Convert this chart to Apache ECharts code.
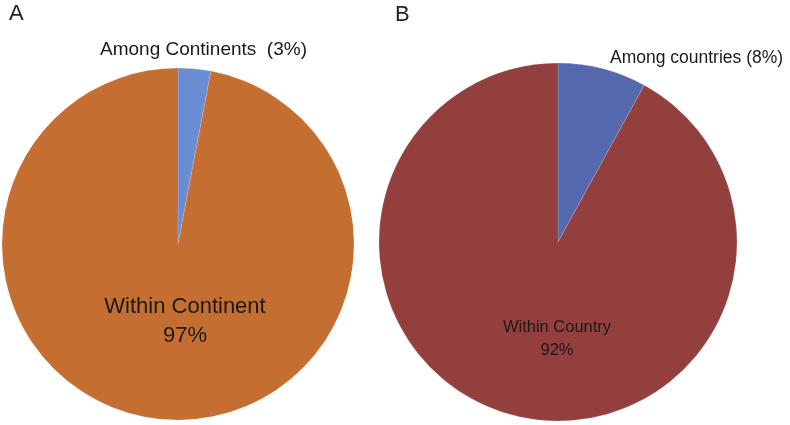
<!DOCTYPE html>
<html><head><meta charset="utf-8">
<script src="https://cdn.jsdelivr.net/npm/echarts@6/dist/echarts.min.js"></script>
<style>html,body{margin:0;padding:0;background:#fff}#c{width:790px;height:425px}</style>
</head><body><div id="c"></div>
<script>
const panelLetters = ['A', 'B'];
const catsA = ['Among Continents', 'Within Continent'];
const valsA = [3, 97];
const catsB = ['Among countries', 'Within Country'];
const valsB = [8, 92];

const chart = echarts.init(document.getElementById('c'));
const font = '"Liberation Sans", Arial, sans-serif';
function pieData(cats, vals, colors) {
  return cats.map((c, i) => ({ name: c, value: vals[i], itemStyle: { color: colors[i] } }));
}
chart.setOption({
  animation: false,
  series: [
    {
      type: 'pie', center: [178, 244], radius: 176, startAngle: 90, clockwise: true,
      label: { show: false }, labelLine: { show: false },
      itemStyle: { borderColor: 'rgba(255,255,255,0.3)', borderWidth: 0.5 },
      data: pieData(catsA, valsA, ['#6A8CD3', '#C46E31'])
    },
    {
      type: 'pie', center: [558, 242], radius: 179, startAngle: 90, clockwise: true,
      label: { show: false }, labelLine: { show: false },
      itemStyle: { borderColor: 'rgba(255,255,255,0.3)', borderWidth: 0.5 },
      data: pieData(catsB, valsB, ['#5468AE', '#933F3E'])
    }
  ],
  graphic: [
    { type: 'text', z: 100, left: 9, top: 3, style: { text: panelLetters[0], font: '22px ' + font, fill: '#222' } },
    { type: 'text', z: 100, left: 395, top: 4, style: { text: panelLetters[1], font: '22px ' + font, fill: '#222' } },
    { type: 'text', z: 100, left: 100, top: 40, style: { text: catsA[0] + '  (' + valsA[0] + '%)', font: '19px ' + font, fill: '#1a1a1a' } },
    { type: 'text', z: 100, left: 610, top: 49, style: { text: catsB[0] + ' (' + valsB[0] + '%)', font: '17.5px ' + font, fill: '#1a1a1a' } },
    { type: 'text', z: 100, x: 185, y: 321, style: { text: catsA[1] + '\n' + valsA[1] + '%', font: '22px ' + font, fill: '#1a1a1a', align: 'center', verticalAlign: 'middle', lineHeight: 29 } },
    { type: 'text', z: 100, x: 557, y: 339, style: { text: catsB[1] + '\n' + valsB[1] + '%', font: '16.5px ' + font, fill: '#1a1a1a', align: 'center', verticalAlign: 'middle', lineHeight: 23 } }
  ]
});
</script></body></html>
